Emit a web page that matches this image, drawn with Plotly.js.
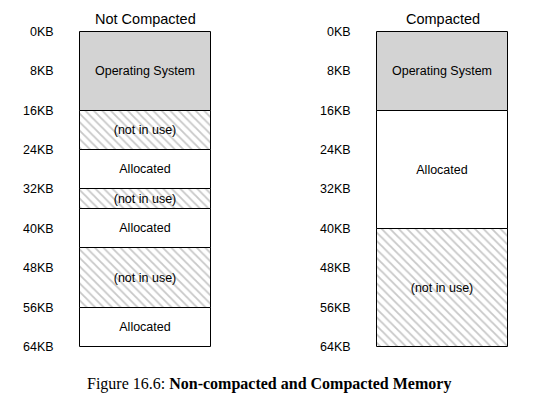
<!DOCTYPE html>
<html>
<head>
<script src="https://cdn.plot.ly/plotly-3.0.1.min.js"></script>
<style>body{margin:0;background:#fff}#chart{width:537px;height:401px}</style>
</head>
<body>
<div id="chart"></div>
<script>
// Memory layouts (KB)
const panels = ['Not Compacted', 'Compacted'];
const panelX = [145.5, 442.5];
const segPanel = [0, 0, 0, 0, 0, 0, 0, 1, 1, 1];
const segStart = [0, 16, 24, 32, 36, 44, 56, 0, 16, 40];
const segSize = [16, 8, 8, 4, 8, 12, 8, 16, 24, 24];
const segKind = ['os', 'free', 'alloc', 'free', 'alloc', 'free', 'alloc', 'os', 'alloc', 'free'];
const kindLabel = {os: 'Operating System', free: '(not in use)', alloc: 'Allocated'};
const tickKB = [0, 8, 16, 24, 32, 40, 48, 56, 64];

const data = segStart.map((s, i) => {
    const k = segKind[i];
    const marker = {line: {color: '#000', width: 1}};
    if (k === 'os') marker.color = '#d3d3d3';
    else if (k === 'alloc') marker.color = '#ffffff';
    else {
        marker.color = '#ffffff';
        marker.pattern = {shape: '\\', fgcolor: '#c8c8c8', bgcolor: '#ffffff', size: 6, solidity: 0.3};
    }
    return {
        type: 'bar', x: [panelX[segPanel[i]]], y: [segSize[i]], base: [s],
        width: 131, marker: marker, text: [kindLabel[k]],
        textposition: 'inside', insidetextanchor: 'middle', textangle: 0,
        textfont: {family: 'Liberation Sans, Arial, sans-serif', size: 12.5, color: '#000'},
        hoverinfo: 'skip', showlegend: false, cliponaxis: false
    };
});

const annotations = [];
panels.forEach((p, j) => {
    annotations.push({x: panelX[j], y: -2.6, text: p, showarrow: false, xref: 'x', yref: 'y',
        font: {family: 'Liberation Sans, Arial, sans-serif', size: 14.5, color: '#000'}});
    tickKB.forEach(kb => annotations.push({
        x: panelX[j] - 90, y: kb, text: kb + 'KB', showarrow: false, xanchor: 'right',
        font: {family: 'Liberation Sans, Arial, sans-serif', size: 12.5, color: '#000'}
    }));
});
annotations.push({x: 268.5, y: 71.6, showarrow: false,
    text: 'Figure 16.6: <b>Non-compacted and Compacted Memory</b>',
    font: {family: 'Liberation Serif, serif', size: 16, color: '#000'}});

const layout = {
    margin: {l: 0, r: 0, t: 0, b: 0},
    barmode: 'overlay', bargap: 0,
    xaxis: {range: [0, 537], visible: false, fixedrange: true},
    yaxis: {range: [75.0, -6.5], visible: false, fixedrange: true},
    annotations: annotations,
    plot_bgcolor: 'white', paper_bgcolor: 'white'
};
Plotly.newPlot('chart', data, layout, {displayModeBar: false});
</script>
</body>
</html>
